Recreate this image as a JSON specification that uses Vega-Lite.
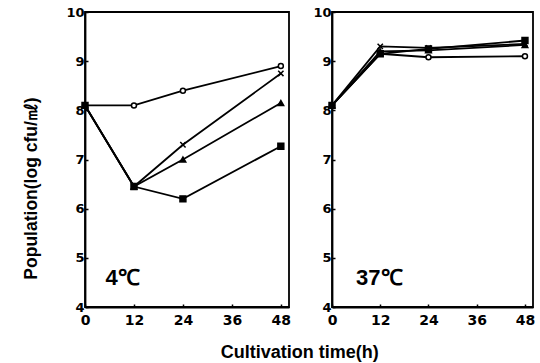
{
  "$schema": "https://vega.github.io/schema/vega-lite/v6.json",
  "background": "white",
  "padding": {"left": 22, "top": 5, "right": 5, "bottom": 5},
  "spacing": 20,
  "datasets": {
    "pts": [
      {"temp": "4", "series": "A", "time": 0, "pop": 8.1},
      {"temp": "4", "series": "A", "time": 12, "pop": 8.1},
      {"temp": "4", "series": "A", "time": 24, "pop": 8.4},
      {"temp": "4", "series": "A", "time": 48, "pop": 8.9},
      {"temp": "4", "series": "B", "time": 0, "pop": 8.1},
      {"temp": "4", "series": "B", "time": 12, "pop": 6.45},
      {"temp": "4", "series": "B", "time": 24, "pop": 7.3},
      {"temp": "4", "series": "B", "time": 48, "pop": 8.75},
      {"temp": "4", "series": "C", "time": 0, "pop": 8.1},
      {"temp": "4", "series": "C", "time": 12, "pop": 6.45},
      {"temp": "4", "series": "C", "time": 24, "pop": 7.0},
      {"temp": "4", "series": "C", "time": 48, "pop": 8.15},
      {"temp": "4", "series": "D", "time": 0, "pop": 8.1},
      {"temp": "4", "series": "D", "time": 12, "pop": 6.45},
      {"temp": "4", "series": "D", "time": 24, "pop": 6.2},
      {"temp": "4", "series": "D", "time": 48, "pop": 7.27},
      {"temp": "37", "series": "A", "time": 0, "pop": 8.1},
      {"temp": "37", "series": "A", "time": 12, "pop": 9.15},
      {"temp": "37", "series": "A", "time": 24, "pop": 9.08},
      {"temp": "37", "series": "A", "time": 48, "pop": 9.1},
      {"temp": "37", "series": "B", "time": 0, "pop": 8.1},
      {"temp": "37", "series": "B", "time": 12, "pop": 9.3},
      {"temp": "37", "series": "B", "time": 24, "pop": 9.27},
      {"temp": "37", "series": "B", "time": 48, "pop": 9.35},
      {"temp": "37", "series": "C", "time": 0, "pop": 8.1},
      {"temp": "37", "series": "C", "time": 12, "pop": 9.2},
      {"temp": "37", "series": "C", "time": 24, "pop": 9.22},
      {"temp": "37", "series": "C", "time": 48, "pop": 9.33},
      {"temp": "37", "series": "D", "time": 0, "pop": 8.1},
      {"temp": "37", "series": "D", "time": 12, "pop": 9.15},
      {"temp": "37", "series": "D", "time": 24, "pop": 9.25},
      {"temp": "37", "series": "D", "time": 48, "pop": 9.42}
    ],
    "labels": [
      {"temp": "4", "label": "4℃", "time": 5, "pop": 4.6},
      {"temp": "37", "label": "37℃", "time": 6, "pop": 4.6}
    ]
  },
  "title": {
    "text": "Cultivation time(h)",
    "orient": "bottom",
    "anchor": "middle",
    "font": "Liberation Sans",
    "fontSize": 18,
    "fontWeight": "bold",
    "color": "black",
    "offset": 16,
    "dx": 21
  },
  "hconcat": [
    {
      "width": 204,
      "height": 295,
      "layer": [
        {
          "data": {"name": "pts"},
          "transform": [{"filter": "datum.temp == '4'"}],
          "mark": {"type": "line", "color": "black", "strokeWidth": 1.8},
          "encoding": {
            "x": {"field": "time", "type": "quantitative", "scale": {"domain": [0, 48]}, "axis": {"values": [0, 12, 24, 36, 48], "title": null}},
            "y": {"field": "pop", "type": "quantitative", "scale": {"domain": [4, 10]}, "axis": {"values": [4, 5, 6, 7, 8, 9, 10], "title": "Population(log cfu/㎖)", "titleY": 176}},
            "detail": {"field": "series"}
          }
        },
        {
          "data": {"name": "pts"},
          "transform": [{"filter": "datum.temp == '4'"}],
          "mark": {"type": "point", "stroke": "black", "strokeWidth": 1.5, "opacity": 1},
          "encoding": {
            "x": {"field": "time", "type": "quantitative"},
            "y": {"field": "pop", "type": "quantitative"},
            "shape": {"field": "series", "type": "nominal", "legend": null, "scale": {"domain": ["A", "B", "C", "D"], "range": ["circle", "M-1,-1L1,1M-1,1L1,-1", "triangle-up", "square"]}},
            "fill": {"field": "series", "type": "nominal", "legend": null, "scale": {"domain": ["A", "B", "C", "D"], "range": ["white", "black", "black", "black"]}},
            "size": {"field": "series", "type": "nominal", "legend": null, "scale": {"domain": ["A", "B", "C", "D"], "range": [25, 35, 40, 35]}}
          }
        },
        {
          "data": {"name": "labels"},
          "transform": [{"filter": "datum.temp == '4'"}],
          "mark": {"type": "text", "align": "left", "baseline": "middle", "font": "Liberation Sans", "fontSize": 22, "fontWeight": "bold", "color": "black"},
          "encoding": {
            "x": {"field": "time", "type": "quantitative"},
            "y": {"field": "pop", "type": "quantitative"},
            "text": {"field": "label"}
          }
        }
      ]
    },
    {
      "width": 201,
      "height": 295,
      "layer": [
        {
          "data": {"name": "pts"},
          "transform": [{"filter": "datum.temp == '37'"}],
          "mark": {"type": "line", "color": "black", "strokeWidth": 1.8},
          "encoding": {
            "x": {"field": "time", "type": "quantitative", "scale": {"domain": [0, 48]}, "axis": {"values": [0, 12, 24, 36, 48], "title": null}},
            "y": {"field": "pop", "type": "quantitative", "scale": {"domain": [4, 10]}, "axis": {"values": [4, 5, 6, 7, 8, 9, 10], "title": null}},
            "detail": {"field": "series"}
          }
        },
        {
          "data": {"name": "pts"},
          "transform": [{"filter": "datum.temp == '37'"}],
          "mark": {"type": "point", "stroke": "black", "strokeWidth": 1.5, "opacity": 1},
          "encoding": {
            "x": {"field": "time", "type": "quantitative"},
            "y": {"field": "pop", "type": "quantitative"},
            "shape": {"field": "series", "type": "nominal", "legend": null, "scale": {"domain": ["A", "B", "C", "D"], "range": ["circle", "M-1,-1L1,1M-1,1L1,-1", "triangle-up", "square"]}},
            "fill": {"field": "series", "type": "nominal", "legend": null, "scale": {"domain": ["A", "B", "C", "D"], "range": ["white", "black", "black", "black"]}},
            "size": {"field": "series", "type": "nominal", "legend": null, "scale": {"domain": ["A", "B", "C", "D"], "range": [25, 35, 40, 35]}}
          }
        },
        {
          "data": {"name": "labels"},
          "transform": [{"filter": "datum.temp == '37'"}],
          "mark": {"type": "text", "align": "left", "baseline": "middle", "font": "Liberation Sans", "fontSize": 22, "fontWeight": "bold", "color": "black"},
          "encoding": {
            "x": {"field": "time", "type": "quantitative"},
            "y": {"field": "pop", "type": "quantitative"},
            "text": {"field": "label"}
          }
        }
      ]
    }
  ],
  "resolve": {"scale": {"shape": "independent", "fill": "independent", "size": "independent"}},
  "config": {
    "view": {"stroke": "black", "strokeWidth": 1.8},
    "axis": {
      "grid": false,
      "domain": true,
      "domainColor": "black",
      "domainWidth": 1.8,
      "ticks": true,
      "tickColor": "black",
      "tickSize": -3,
      "tickWidth": 1.5,
      "labelFont": "DejaVu Sans",
      "labelFontSize": 13,
      "labelFontWeight": "bold",
      "labelColor": "black",
      "labelPadding": 4,
      "labelFlush": false,
      "titleFont": "Liberation Sans",
      "titleFontSize": 17.5,
      "titleFontWeight": "bold",
      "titleColor": "black",
      "titlePadding": 25
    },
    "axisX": {"labelFontSize": 14, "labelPadding": 9}
  }
}
